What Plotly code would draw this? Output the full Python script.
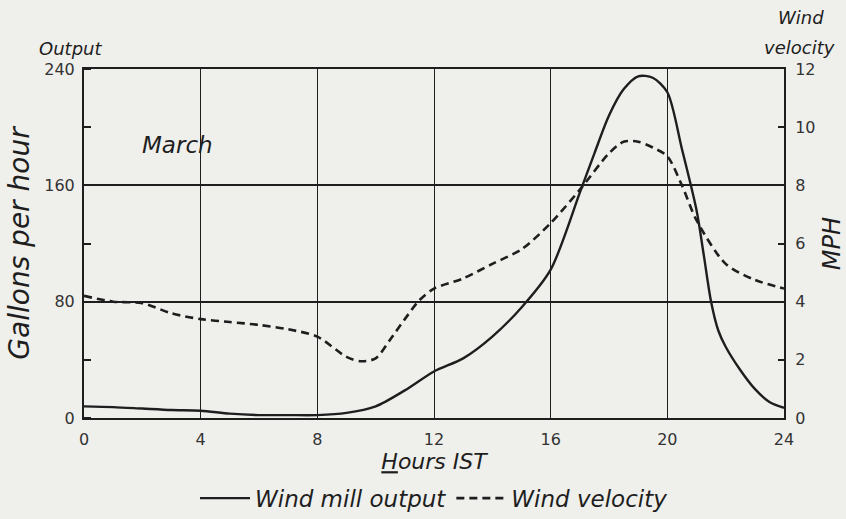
import plotly.graph_objects as go

# Hourly readings (Indian Standard Time)
output_hours = [0, 1, 2, 3, 4, 5, 6, 7, 8, 9, 10, 11, 12, 13, 14, 15, 16, 17,
                17.5, 18, 18.5, 19, 19.5, 20, 20.5, 21, 21.25, 21.5, 21.75, 22, 22.5,
                23, 23.5, 24]
output_gph = [8, 7.5, 6.5, 5.5, 5, 3, 2, 2, 2, 3.5, 8, 19, 32, 41, 56, 76, 102, 155,
              182, 208, 226, 235, 234, 224, 185, 143, 112, 80, 60, 49, 33,
              20, 11, 7]

wind_hours = [0, 1, 2, 3, 4, 5, 6, 7, 8, 9, 9.5, 10, 10.5, 11, 11.5, 12, 13, 14, 15,
              16, 17, 18, 18.5, 19, 19.5, 20, 20.5, 21, 22, 23, 24]
wind_mph = [4.2, 4.0, 3.95, 3.6, 3.4, 3.3, 3.2, 3.05, 2.8, 2.1, 1.95, 2.05, 2.7, 3.4,
            4.05, 4.45, 4.8, 5.3, 5.8, 6.7, 7.85, 9.1, 9.5, 9.5, 9.3, 9.0, 8.0, 6.8,
            5.3, 4.75, 4.45]

x_ticks = [0, 4, 8, 12, 16, 20, 24]
x_tick_text = ["0", "4", "8", "12", "16", "20", "24"]
gph_ticks = [0, 80, 160, 240]
mph_ticks = [0, 2, 4, 6, 8, 10, 12]

INK = "#1e1e1e"
PAPER = "#efefec"
HAND = "DejaVu Sans"

fig = go.Figure()

fig.add_trace(go.Scatter(
    x=output_hours, y=output_gph, name="Wind mill output",
    mode="lines", line=dict(color=INK, width=2.4, shape="spline", smoothing=0.8),
))
fig.add_trace(go.Scatter(
    x=wind_hours, y=wind_mph, name="Wind velocity", yaxis="y2",
    mode="lines", line=dict(color=INK, width=2.6, dash="8px,5px", shape="spline", smoothing=0.8),
))

fig.update_layout(
    width=846, height=519,
    margin=dict(l=84, r=62, t=69, b=101, autoexpand=False),
    paper_bgcolor=PAPER, plot_bgcolor=PAPER,
    font=dict(family=HAND, color=INK, size=15),
    showlegend=True,
    legend=dict(
        orientation="h", x=0.5, xanchor="center", y=-0.168, yanchor="top",
        bgcolor="rgba(0,0,0,0)", font=dict(size=23, style="italic", family=HAND),
        itemwidth=50,
    ),
    xaxis=dict(
        range=[0, 24], tickvals=x_ticks, ticktext=x_tick_text, automargin=False,
        showgrid=True, gridcolor=INK, gridwidth=1.4,
        showline=True, linecolor=INK, linewidth=2, mirror=True,
        ticks="", zeroline=False, ticklabelstandoff=6,
        tickfont=dict(size=16, color="#333"),
        title=dict(text="<u>H</u>ours IST", font=dict(size=22, style="italic"), standoff=4),
    ),
    yaxis=dict(
        range=[0, 240], tickvals=gph_ticks, automargin=False,
        showgrid=True, gridcolor=INK, gridwidth=2.2,
        showline=True, linecolor=INK, linewidth=2,
        ticks="", zeroline=False, ticklabelstandoff=4,
        minor=dict(dtick=40, ticks="inside", ticklen=7, tickcolor=INK, tickwidth=1.5, showgrid=False),
        tickfont=dict(size=16, color="#333"),
        title=dict(text="Gallons per hour", font=dict(size=28, style="italic"), standoff=6),
    ),
    yaxis2=dict(
        range=[0, 12], tickvals=mph_ticks, overlaying="y", side="right", automargin=False,
        showgrid=False, showline=True, linecolor=INK, linewidth=2,
        ticks="inside", ticklen=6, tickcolor=INK, tickwidth=1.5, zeroline=False,
        ticklabelstandoff=6,
        tickfont=dict(size=16, color="#333"),
        title=dict(text="MPH", font=dict(size=24, style="italic"), standoff=10),
    ),
)

# Axis captions above each vertical scale and the month label
fig.add_annotation(text="Output", xref="paper", yref="paper", x=-0.02, y=1.0,
                   xanchor="center", yanchor="bottom", yshift=8, showarrow=False,
                   font=dict(size=18, style="italic"))
fig.add_annotation(text="Wind", xref="paper", yref="paper", x=1.06, y=1.0,
                   xanchor="right", yanchor="bottom", yshift=39, showarrow=False,
                   font=dict(size=18, style="italic"))
fig.add_annotation(text="velocity", xref="paper", yref="paper", x=1.075, y=1.0,
                   xanchor="right", yanchor="bottom", yshift=9, showarrow=False,
                   font=dict(size=18, style="italic"))
fig.add_annotation(text="March", x=3.22, y=188, xref="x", yref="y", showarrow=False,
                   font=dict(size=23, style="italic"))

fig.write_html("out.html")
